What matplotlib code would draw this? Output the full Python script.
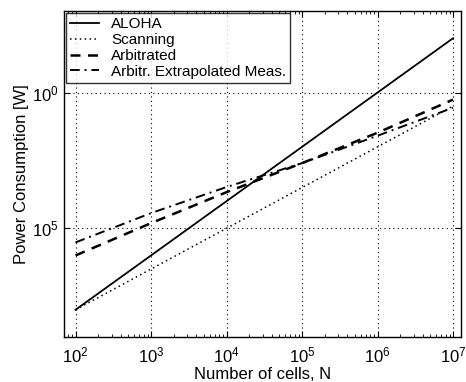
import matplotlib
matplotlib.use("Agg")
import matplotlib.pyplot as plt
import numpy as np
from matplotlib.ticker import LogLocator, FixedLocator, NullLocator

plt.rcParams['font.family'] = ['Liberation Sans', 'DejaVu Sans']
plt.rcParams['mathtext.fontset'] = 'custom'
plt.rcParams['mathtext.rm'] = 'Liberation Sans'
plt.rcParams['mathtext.it'] = 'Liberation Sans'

# Data (log10 values)
N = [1e2, 1e3, 1e4, 1e5, 1e6, 1e7]
aloha_log = [-8.0, -6.0, -4.0, -2.0, 0.0, 2.0]
scanning_log = [-8.0, -6.5, -5.0, -3.5, -2.0, -0.5]
arbitrated_log = [-6.0, -4.81, -3.67, -2.6, -1.48, -0.26]
arb_extrap_log = [-5.52, -4.44, -3.48, -2.6, -1.59, -0.56]

labels = ["ALOHA", "Scanning", "Arbitrated", "Arbitr. Extrapolated Meas."]
xticks = [1e2, 1e3, 1e4, 1e5, 1e6, 1e7]
xticklabels = ["$10^2$", "$10^3$", "$10^4$", "$10^5$", "$10^6$", "$10^7$"]
yticks = [1e0, 1e-5]
yticklabels = ["$10^0$", "$10^5$"]

fig = plt.figure(figsize=(4.66, 3.82), dpi=100)
ax = fig.add_axes([0.137, 0.118, 0.852, 0.853])

ax.plot(N, 10**np.array(aloha_log), 'k-', lw=1.3, label=labels[0])
ax.plot(N, 10**np.array(scanning_log), 'k', ls=(0, (1, 2.2)), lw=1.1, label=labels[1])
ax.plot(N, 10**np.array(arbitrated_log), 'k', ls=(0, (4, 3)), lw=1.8, label=labels[2])
ax.plot(N, 10**np.array(arb_extrap_log), 'k', ls=(0, (5, 2.5, 1, 2.5)), lw=1.4, label=labels[3])

ax.set_xscale('log')
ax.set_yscale('log')
ax.set_xlim(70, 1.27e7)
ax.set_ylim(1e-9, 1e3)

ax.xaxis.set_major_locator(FixedLocator(xticks))
ax.set_xticklabels(xticklabels)
ax.xaxis.set_minor_locator(LogLocator(base=10, subs=np.arange(2, 10), numticks=20))
ax.yaxis.set_major_locator(FixedLocator(yticks))
ax.set_yticklabels(yticklabels)
ax.yaxis.set_minor_locator(NullLocator())

ax.tick_params(which='both', direction='in', top=True, right=True, labelsize=12)
ax.tick_params(which='major', length=4, width=0.8)
ax.tick_params(which='minor', length=2.5, width=0.6)
ax.tick_params(axis='x', pad=6)

ax.grid(True, which='major', ls=(0, (1, 3)), color='k', lw=0.8)

for s in ax.spines.values():
    s.set_linewidth(1.0)

ax.set_xlabel("Number of cells, N", fontsize=12, labelpad=1)
ax.set_ylabel("Power Consumption [W]", fontsize=12, labelpad=2)

leg = ax.legend(loc='upper left', fontsize=11, frameon=True, fancybox=False,
                edgecolor='k', handlelength=1.9, handletextpad=0.8,
                borderaxespad=0.15, labelspacing=0.12, borderpad=0.25)
leg.get_frame().set_linewidth(1.0)

fig.savefig("out.png", dpi=100)
